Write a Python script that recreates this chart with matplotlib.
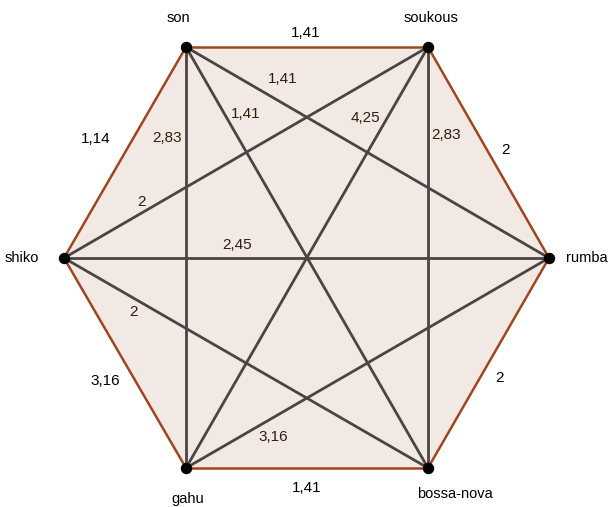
import matplotlib
matplotlib.use("Agg")
import matplotlib.pyplot as plt
from matplotlib.patches import Polygon

plt.rcParams['font.family'] = ['Liberation Sans', 'DejaVu Sans']

# node names and their positions in the picture (pixel coords)
names = ["son", "soukous", "rumba", "bossa-nova", "gahu", "shiko"]
node_x = [186, 428, 549, 428, 186, 64]
node_y = [47, 47, 258, 468, 468, 258]

# hexagon sides: (i, j, label)
sides = [(0, 1, "1,41"), (1, 2, "2"), (2, 3, "2"),
         (3, 4, "1,41"), (4, 5, "3,16"), (5, 0, "1,14")]
side_label_pos = [(306, 33), (505, 150), (500, 378),
                  (307, 488), (105, 381), (96, 139)]

# diagonals
diagonals = [(0, 4, "2,83"), (0, 3, "1,41"), (0, 2, "1,41"),
             (1, 5, "2"), (1, 4, "4,25"), (1, 3, "2,83"),
             (5, 2, "2,45"), (5, 3, "2"), (4, 2, "3,16")]
diag_label_pos = [(167, 138), (246, 114), (283, 79),
                  (141, 202), (365, 118), (446, 135),
                  (237, 245), (133, 312), (273, 437)]

name_pos = [(178, 18), (431, 18), (587, 258), (455, 494), (188, 499), (22, 258)]

fig = plt.figure(figsize=(6.09, 5.07), dpi=100)
ax = fig.add_axes([0, 0, 1, 1])
ax.set_xlim(0, 609)
ax.set_ylim(507, 0)
ax.axis("off")

edge_col = "#a0461e"
ax.add_patch(Polygon(list(zip(node_x, node_y)), closed=True,
                     facecolor="#f3e9e4", edgecolor="none", zorder=1))

for (i, j, lab) in diagonals:
    ax.plot([node_x[i], node_x[j]], [node_y[i], node_y[j]],
            color="#4a4442", lw=2.0, zorder=2, solid_capstyle="round")
for (i, j, lab) in sides:
    ax.plot([node_x[i], node_x[j]], [node_y[i], node_y[j]],
            color=edge_col, lw=1.8, zorder=3, solid_capstyle="round")

ax.scatter(node_x, node_y, s=52, color="black", zorder=4)

for (i, j, lab), (x, y) in zip(sides, side_label_pos):
    ax.text(x, y, lab, ha="center", va="center", fontsize=11, color="black")
for (i, j, lab), (x, y) in zip(diagonals, diag_label_pos):
    ax.text(x, y, lab, ha="center", va="center", fontsize=11, color="#2e1f0c")
for name, (x, y) in zip(names, name_pos):
    ax.text(x, y, name, ha="center", va="center", fontsize=10.5, color="black")

fig.savefig("out.png", dpi=100)
